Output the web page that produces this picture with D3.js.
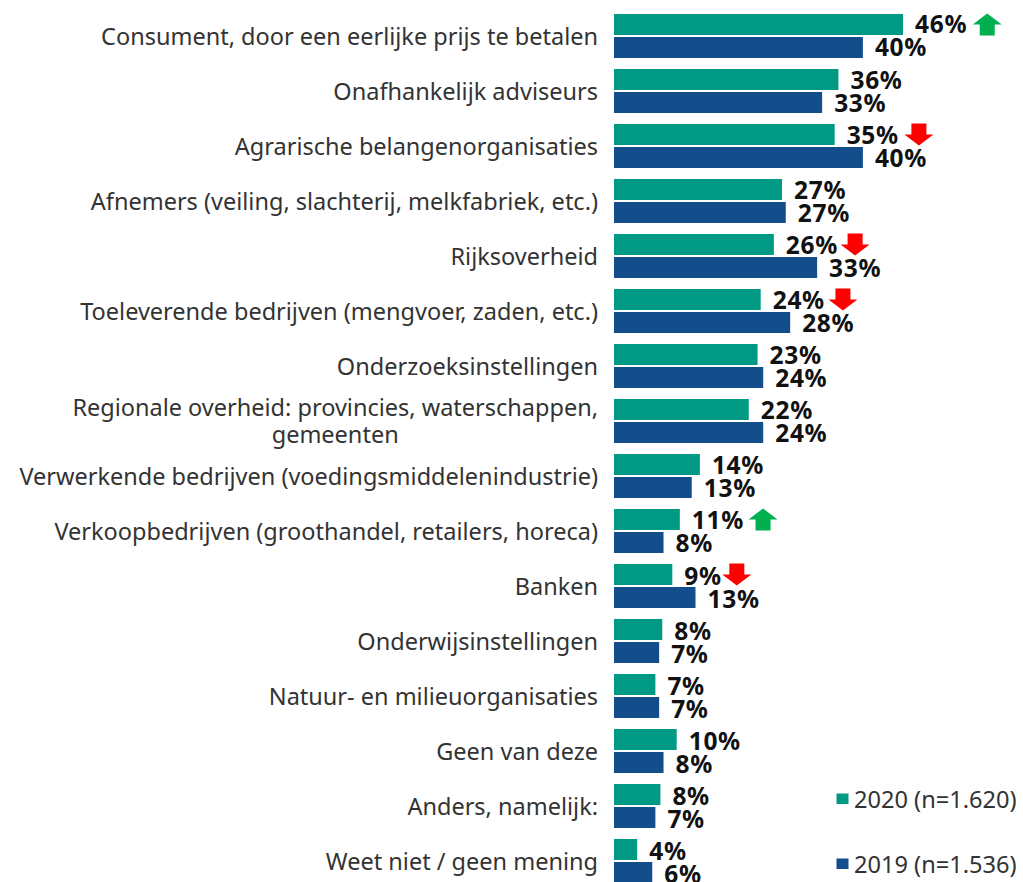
<!DOCTYPE html>
<html><head><meta charset="utf-8">
<script src="https://cdn.jsdelivr.net/npm/d3@7"></script>
<style>html,body{margin:0;padding:0;background:#fff;overflow:hidden}svg{display:block}</style>
</head><body><svg id="c" width="1023" height="882"></svg>
<script>
const categories = [
 ["Consument, door een eerlijke prijs te betalen"],
 ["Onafhankelijk adviseurs"],
 ["Agrarische belangenorganisaties"],
 ["Afnemers (veiling, slachterij, melkfabriek, etc.)"],
 ["Rijksoverheid"],
 ["Toeleverende bedrijven (mengvoer, zaden, etc.)"],
 ["Onderzoeksinstellingen"],
 ["Regionale overheid: provincies, waterschappen,","gemeenten"],
 ["Verwerkende bedrijven (voedingsmiddelenindustrie)"],
 ["Verkoopbedrijven (groothandel, retailers, horeca)"],
 ["Banken"],
 ["Onderwijsinstellingen"],
 ["Natuur- en milieuorganisaties"],
 ["Geen van deze"],
 ["Anders, namelijk:"],
 ["Weet niet / geen mening"]
];
const values2020 = [46.1,35.8,35.2,26.8,25.5,23.4,22.9,21.5,13.7,10.5,9.3,7.7,6.6,10.0,7.4,3.7];
const values2019 = [39.7,33.2,39.7,27.4,32.4,28.1,23.8,23.8,12.4,7.9,13.0,7.2,7.2,7.9,6.6,6.1];
const labels2020 = ["46%","36%","35%","27%","26%","24%","23%","22%","14%","11%","9%","8%","7%","10%","8%","4%"];
const labels2019 = ["40%","33%","40%","27%","33%","28%","24%","24%","13%","8%","13%","7%","7%","8%","7%","6%"];
const changes = [1,0,-1,0,-1,-1,0,0,0,1,-1,0,0,0,0,0];
const seriesNames = ["2020","2019"];
const legendLabels = ["2020 (n=1.620)","2019 (n=1.536)"];

const colors = d3.scaleOrdinal(seriesNames,["#009a84","#134d8b"]);
const idx = d3.range(categories.length);
const x = d3.scaleLinear().domain([0,46.1]).range([614,903]);
const y = d3.scaleBand().domain(idx).range([14,883]).paddingInner(0.2);
const y2 = d3.scaleBand().domain(seriesNames).range([0,y.bandwidth()]).paddingInner(2/23);
const svg = d3.select("#c");
const catFont = "'Noto Sans',sans-serif";
const arrowGap = new Map([[0,20],[2,20],[4,17],[5,18],[9,19],[10,15]]);

const rows = [
 {s:"2020",v:values2020,l:labels2020},
 {s:"2019",v:values2019,l:labels2019}
];
rows.forEach(r=>{
  svg.append("g").selectAll("rect").data(idx).join("rect")
   .attr("x",x(0)).attr("y",i=>y(i)+y2(r.s))
   .attr("width",i=>x(r.v[i])-x(0)).attr("height",y2.bandwidth())
   .attr("fill",colors(r.s));
  r.nodes = svg.append("g").selectAll("text").data(idx).join("text")
   .attr("x",i=>x(r.v[i])+12).attr("y",i=>y(i)+y2(r.s)+y2.bandwidth()/2+8.5+0.4+i*0.12)
   .attr("font-family","'Noto Sans',sans-serif").attr("font-weight",700)
   .attr("font-size",24.5).attr("letter-spacing",0.7).attr("fill","#111")
   .text(i=>r.l[i]);
});

// category labels
const cat = svg.append("g").selectAll("g").data(idx).join("g");
cat.each(function(i){
  const g=d3.select(this), lines=categories[i];
  const cy=y(i)+y.bandwidth()/2-1, lh=27;
  const t=g.selectAll("text").data(lines).join("text")
   .attr("font-family",catFont).attr("font-size",23.5).attr("fill","#333")
   .attr("y",(d,k)=>cy+(k-(lines.length-1)/2)*lh+9.5)
   .text(d=>d);
  if(lines.length===1){ t.attr("text-anchor","end").attr("x",598); }
  else {
    const w=d3.max(t.nodes(),n=>n.getComputedTextLength());
    t.attr("text-anchor","middle").attr("x",598-w/2);
  }
});

// change arrows, after the 2020 value label
const arrow = d3.line();
const ah=11, aw=14.5, sw=7.5;
const shape = [[0,-ah],[aw,0],[sw,0],[sw,ah],[-sw,ah],[-sw,0],[-aw,0]];
const nodes2020 = rows[0].nodes.nodes();
svg.append("g").selectAll("path").data(idx.filter(i=>changes[i]!==0)).join("path")
  .attr("d",arrow(shape)+"Z")
  .attr("fill",i=>changes[i]>0?"#00b050":"#ff0000")
  .attr("transform",i=>{
    const n=nodes2020[i], ex=+n.getAttribute("x")+n.getComputedTextLength();
    return `translate(${ex+arrowGap.get(i)},${y(i)+y2("2020")+y2.bandwidth()/2}) scale(1,${changes[i]>0?1:-1})`;
  });

// legend
const legendY = d3.scalePoint().domain(seriesNames).range([799,864]);
const lg = svg.append("g").selectAll("g").data(seriesNames).join("g");
lg.append("rect").attr("x",836.5).attr("y",s=>legendY(s)-5.5).attr("width",12).attr("height",10.5).attr("fill",s=>colors(s));
lg.append("text").attr("x",854).attr("y",s=>legendY(s)+8.5).attr("font-family",catFont)
  .attr("font-size",23.6).attr("fill","#333").text((s,i)=>legendLabels[i]);
</script></body></html>
